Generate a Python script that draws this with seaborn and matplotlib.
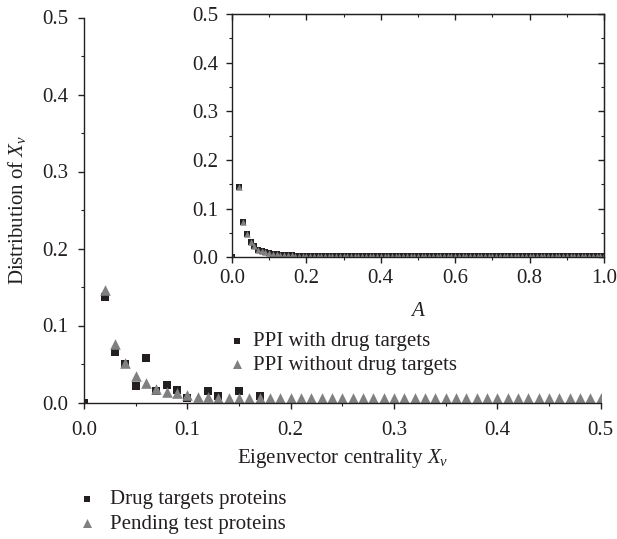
import numpy as np
import pandas as pd
import matplotlib
matplotlib.use("Agg")
import matplotlib.pyplot as plt
import seaborn as sns
from matplotlib.ticker import MultipleLocator

# ---------------- data ----------------
main_x = [0.00, 0.01, 0.02, 0.03, 0.04, 0.05, 0.06, 0.07, 0.08, 0.09,
          0.10, 0.11, 0.12, 0.13, 0.14, 0.15, 0.16, 0.17, 0.18, 0.19,
          0.20, 0.21, 0.22, 0.23, 0.24, 0.25, 0.26, 0.27, 0.28, 0.29,
          0.30, 0.31, 0.32, 0.33, 0.34, 0.35, 0.36, 0.37, 0.38, 0.39,
          0.40, 0.41, 0.42, 0.43, 0.44, 0.45, 0.46, 0.47, 0.48, 0.49, 0.50]
main_drug = [0.000, None, 0.137, 0.065, 0.050, 0.022, 0.058, 0.015, 0.023, 0.016,
             0.006, None, 0.015, 0.008, None, 0.015, None, 0.008, None, None,
             None, None, None, None, None, None, None, None, None, None,
             None, None, None, None, None, None, None, None, None, None,
             None, None, None, None, None, None, None, None, None, None, None]
main_pending = [None, None, 0.146, 0.076, 0.051, 0.034, 0.025, 0.017, 0.014, 0.012,
                0.010, 0.0075, 0.0068, 0.006, 0.0055, 0.0055, 0.0055, 0.0055, 0.0055, 0.0055,
                0.0055, 0.0055, 0.0055, 0.0055, 0.0055, 0.0055, 0.0055, 0.0055, 0.0055, 0.0055,
                0.0055, 0.0055, 0.0055, 0.0055, 0.0055, 0.0055, 0.0055, 0.0055, 0.0055, 0.0055,
                0.0055, 0.0055, 0.0055, 0.0055, 0.0055, 0.0055, 0.0055, 0.0055, 0.0055, 0.0055, 0.0055]

inset_x = [0.00, 0.01, 0.02, 0.03, 0.04, 0.05, 0.06, 0.07, 0.08, 0.09,
           0.10, 0.11, 0.12, 0.13, 0.14, 0.15, 0.16, 0.17, 0.18, 0.19,
           0.20, 0.21, 0.22, 0.23, 0.24, 0.25, 0.26, 0.27, 0.28, 0.29,
           0.30, 0.31, 0.32, 0.33, 0.34, 0.35, 0.36, 0.37, 0.38, 0.39,
           0.40, 0.41, 0.42, 0.43, 0.44, 0.45, 0.46, 0.47, 0.48, 0.49,
           0.50, 0.51, 0.52, 0.53, 0.54, 0.55, 0.56, 0.57, 0.58, 0.59,
           0.60, 0.61, 0.62, 0.63, 0.64, 0.65, 0.66, 0.67, 0.68, 0.69,
           0.70, 0.71, 0.72, 0.73, 0.74, 0.75, 0.76, 0.77, 0.78, 0.79,
           0.80, 0.81, 0.82, 0.83, 0.84, 0.85, 0.86, 0.87, 0.88, 0.89,
           0.90, 0.91, 0.92, 0.93, 0.94, 0.95, 0.96, 0.97, 0.98, 0.99, 1.00]
inset_drug = [0.000, None, 0.144, 0.073, 0.048, 0.032, 0.024, 0.016, 0.013, 0.011,
              0.008, 0.007, 0.006, 0.005, 0.004, 0.004, 0.004, 0.003, 0.003, 0.003,
              0.003, 0.003, 0.003, 0.003, 0.003, 0.003, 0.003, 0.003, 0.003, 0.003,
              0.003, 0.003, 0.003, 0.003, 0.003, 0.003, 0.003, 0.003, 0.003, 0.003,
              0.003, 0.003, 0.003, 0.003, 0.003, 0.003, 0.003, 0.003, 0.003, 0.003,
              0.003, 0.003, 0.003, 0.003, 0.003, 0.003, 0.003, 0.003, 0.003, 0.003,
              0.003, 0.003, 0.003, 0.003, 0.003, 0.003, 0.003, 0.003, 0.003, 0.003,
              0.003, 0.003, 0.003, 0.003, 0.003, 0.003, 0.003, 0.003, 0.003, 0.003,
              0.003, 0.003, 0.003, 0.003, 0.003, 0.003, 0.003, 0.003, 0.003, 0.003,
              0.003, 0.003, 0.003, 0.003, 0.003, 0.003, 0.003, 0.003, 0.003, 0.003, 0.003]
inset_pending = [0.000, None, 0.144, 0.073, 0.048, 0.032, 0.024, 0.016, 0.013, 0.011,
                 0.008, 0.007, 0.006, 0.005, 0.004, 0.004, 0.004, 0.003, 0.003, 0.003,
                 0.003, 0.003, 0.003, 0.003, 0.003, 0.003, 0.003, 0.003, 0.003, 0.003,
                 0.003, 0.003, 0.003, 0.003, 0.003, 0.003, 0.003, 0.003, 0.003, 0.003,
                 0.003, 0.003, 0.003, 0.003, 0.003, 0.003, 0.003, 0.003, 0.003, 0.003,
                 0.003, 0.003, 0.003, 0.003, 0.003, 0.003, 0.003, 0.003, 0.003, 0.003,
                 0.003, 0.003, 0.003, 0.003, 0.003, 0.003, 0.003, 0.003, 0.003, 0.003,
                 0.003, 0.003, 0.003, 0.003, 0.003, 0.003, 0.003, 0.003, 0.003, 0.003,
                 0.003, 0.003, 0.003, 0.003, 0.003, 0.003, 0.003, 0.003, 0.003, 0.003,
                 0.003, 0.003, 0.003, 0.003, 0.003, 0.003, 0.003, 0.003, 0.003, 0.003, 0.003]

main_ticks = [0.0, 0.1, 0.2, 0.3, 0.4, 0.5]
inset_xticks = [0.0, 0.2, 0.4, 0.6, 0.8, 1.0]
inset_yticks = [0.0, 0.1, 0.2, 0.3, 0.4, 0.5]

inner_labels = ["PPI with drug targets", "PPI without drug targets"]
outer_labels = ["Drug targets proteins", "Pending test proteins"]

# ---------------- style ----------------
sns.set_style("ticks")
AX = "#231f20"
DARK = "#231f20"
GRAY = "#808080"
plt.rcParams["font.family"] = ["Liberation Serif", "DejaVu Serif"]
plt.rcParams["mathtext.fontset"] = "custom"
plt.rcParams["mathtext.rm"] = "Liberation Serif"
plt.rcParams["mathtext.it"] = "Liberation Serif:italic"
plt.rcParams["axes.edgecolor"] = AX
plt.rcParams["xtick.color"] = AX
plt.rcParams["ytick.color"] = AX
plt.rcParams["text.color"] = AX
plt.rcParams["axes.labelcolor"] = AX
FS = 15

fig = plt.figure(figsize=(6.17, 5.39), dpi=100)
ax = fig.add_axes([84 / 617, 1 - 402.5 / 539, (600.7 - 84) / 617, (402.5 - 17.5) / 539])

dm = pd.DataFrame({"x": main_x, "drug": main_drug, "pending": main_pending}).astype(float)
sns.scatterplot(data=dm, x="x", y="drug", marker="s", color=DARK, s=33, linewidth=0,
                ax=ax, label=inner_labels[0], legend=False)
sns.scatterplot(data=dm, x="x", y="pending", marker="^", color=GRAY, s=58, linewidth=0,
                ax=ax, label=inner_labels[1], legend=False)

ax.set_xlim(0, 0.5)
ax.set_ylim(0, 0.5)
ax.set_xticks(main_ticks)
ax.set_yticks(main_ticks)
ax.set_xticklabels([f"{t:.1f}" for t in main_ticks])
ax.set_yticklabels([f"{t:.1f}" for t in main_ticks])
ax.xaxis.set_minor_locator(MultipleLocator(0.05))
ax.yaxis.set_minor_locator(MultipleLocator(0.05))
sns.despine(ax=ax)
for s in ["left", "bottom"]:
    ax.spines[s].set_linewidth(1.0)
ax.tick_params(which="major", direction="out", length=4.5, width=1.0, labelsize=FS)
ax.tick_params(axis="x", which="major", pad=9)
ax.tick_params(axis="y", which="major", pad=7)
ax.tick_params(which="minor", direction="out", length=2.5, width=0.8)
ax.set_xlabel(r"Eigenvector centrality $X_v$", fontsize=FS, labelpad=4.5)
ax.set_ylabel(r"Distribution of $X_v$", fontsize=FS, labelpad=10)

handles = list(ax.collections)
leg1 = ax.legend(handles, inner_labels, loc="upper left", frameon=False, fontsize=FS,
                 bbox_to_anchor=(228.7 / 617, 1 - 331.5 / 539), bbox_transform=fig.transFigure,
                 handlelength=0.8, handletextpad=0.37, borderpad=0, borderaxespad=0,
                 labelspacing=0.2, markerscale=0.85)

# ---------------- inset ----------------
ai = fig.add_axes([232 / 617, 1 - 257.3 / 539, 372 / 617, 243.3 / 539])
ai.set_facecolor("white")
di = pd.DataFrame({"x": inset_x, "drug": inset_drug, "pending": inset_pending}).astype(float)
sns.scatterplot(data=di, x="x", y="drug", marker="s", color=DARK, s=14, linewidth=0,
                ax=ai, legend=False)
sns.scatterplot(data=di, x="x", y="pending", marker="^", color=GRAY, s=22, linewidth=0,
                ax=ai, legend=False)
ai.set_xlim(0, 1.0)
ai.set_ylim(0, 0.5)
ai.set_xticks(inset_xticks)
ai.set_yticks(inset_yticks)
ai.set_xticklabels([f"{t:.1f}" for t in inset_xticks])
ai.set_yticklabels([f"{t:.1f}" for t in inset_yticks])
ai.xaxis.set_minor_locator(MultipleLocator(0.1))
ai.yaxis.set_minor_locator(MultipleLocator(0.05))
for s in ai.spines.values():
    s.set_linewidth(1.0)
ai.tick_params(which="major", direction="out", length=4, width=1.0, labelsize=FS)
ai.tick_params(axis="x", which="major", pad=4.5)
ai.tick_params(axis="y", which="major", pad=6)
ai.tick_params(which="minor", direction="out", length=2.5, width=0.8)
ai.set_xlabel(r"$A$", fontsize=FS, labelpad=10)
ai.set_ylabel("")

top = ai.secondary_xaxis("top")
top.set_xticks(inset_xticks)
top.xaxis.set_minor_locator(MultipleLocator(0.1))
top.tick_params(which="major", direction="in", length=4, width=1.0, labeltop=False)
top.tick_params(which="minor", direction="in", length=2.5, width=0.8)
right = ai.secondary_yaxis("right")
right.set_yticks(inset_yticks)
right.yaxis.set_minor_locator(MultipleLocator(0.05))
right.tick_params(which="major", direction="in", length=4, width=1.0, labelright=False)
right.tick_params(which="minor", direction="in", length=2.5, width=0.8)

# ---------------- bottom legend ----------------
fig.legend(handles, outer_labels, loc="upper left", frameon=False, fontsize=FS,
           bbox_to_anchor=(77 / 617, 1 - 489.5 / 539), bbox_transform=fig.transFigure,
           handlelength=1.0, handletextpad=0.59, borderpad=0, borderaxespad=0,
           labelspacing=0.25, markerscale=0.85)

fig.savefig("out.png", dpi=100)
